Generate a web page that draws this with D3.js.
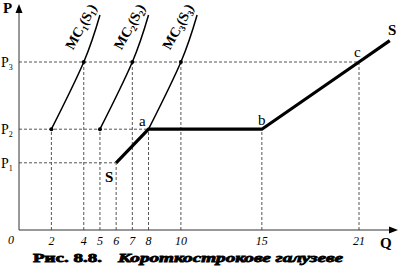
<!DOCTYPE html>
<html lang="uk">
<head>
<meta charset="UTF-8">
<title>Короткострокове галузеве</title>
<script src="https://d3js.org/d3.v7.min.js"></script>
<style>
  body { margin: 0; background: #fff; }
  svg text { font-family: "Liberation Serif", "Times New Roman", Tinos, "DejaVu Serif", serif; fill: #000; }
</style>
</head>
<body>
<div id="chart"></div>
<script>
// ticks on Q axis
var qTicks = [2, 4, 5, 6, 7, 8, 10, 15, 21];
// price levels
var priceNames = ['P1', 'P2', 'P3'];
var priceValues = [4, 6, 10];
// marginal cost curves of three firms (Q, P)
var mcNames = ['1', '2', '3'];
var mcQ = [[2, 4, 5], [5, 7, 8], [8, 10, 11]];
var mcP = [6, 10, 12.8];
// industry supply S
var supplyQ = [6, 8, 15, 21, 22.9];
var supplyP = [4, 6, 6, 10, 11.27];
// guide lines: vertical from axis to point
var guideQ = [2, 4, 5, 6, 7, 8, 10, 15, 21];
var guideP = [6, 10, 6, 4, 10, 6, 10, 6, 10];
// dots on MC curves
var dotQ = [2, 4, 5, 7, 10];
var dotP = [6, 10, 6, 10, 10];

var w = 398, h = 278;
var svg = d3.select('#chart').append('svg')
    .attr('width', w)
    .attr('height', h)
    .attr('font-family', '"Liberation Serif", "Times New Roman", Tinos, "DejaVu Serif", serif');

var x = d3.scaleLinear().domain([0, 21]).range([19, 359]);
var y = d3.scaleLinear().domain([0, 10]).range([230, 62]);

// dashed guides
var dash = '3,2';
svg.selectAll('line.v').data(guideQ).enter().append('line')
    .attr('x1', function (d) { return x(d); })
    .attr('x2', function (d) { return x(d); })
    .attr('y1', y(0))
    .attr('y2', function (d, i) { return y(guideP[i]); })
    .attr('stroke', '#555').attr('stroke-dasharray', dash);

// horizontal guides: P1 to 6, P2 to 8, P3 to 21
var hEnd = [6, 8, 21];
svg.selectAll('line.h').data(priceValues).enter().append('line')
    .attr('x1', x(0))
    .attr('x2', function (d, i) { return x(hEnd[i]); })
    .attr('y1', function (d) { return y(d); })
    .attr('y2', function (d) { return y(d); })
    .attr('stroke', '#555').attr('stroke-dasharray', dash);

// axes
svg.append('line').attr('x1', x(0)).attr('y1', y(0)).attr('x2', x(0)).attr('y2', 10)
    .attr('stroke', '#333');
svg.append('path').attr('d', 'M' + x(0) + ',4 L' + (x(0) - 3.5) + ',13 L' + (x(0) + 3.5) + ',13 Z');
svg.append('line').attr('x1', x(0)).attr('y1', y(0)).attr('x2', 392).attr('y2', y(0))
    .attr('stroke', '#333');
svg.append('path').attr('d', 'M398,' + y(0) + ' L389,' + (y(0) - 3.5) + ' L389,' + (y(0) + 3.5) + ' Z');

svg.append('text').attr('x', 3).attr('y', 13).attr('font-size', 15).attr('font-weight', 'bold').text('P');
svg.append('text').attr('x', 380).attr('y', 248).attr('font-size', 15).attr('font-weight', 'bold').text('Q');
svg.append('text').attr('x', 8).attr('y', 244).attr('font-size', 12).attr('font-style', 'italic').text('0');

// tick labels
svg.selectAll('text.tick').data(qTicks).enter().append('text')
    .attr('x', function (d) { return x(d); })
    .attr('y', 245)
    .attr('text-anchor', 'middle')
    .attr('font-size', 12)
    .attr('font-style', 'italic')
    .text(function (d) { return d; });

// price labels
var pl = svg.selectAll('text.p').data(priceValues).enter().append('text')
    .attr('x', 1)
    .attr('y', function (d) { return y(d) + 5; })
    .attr('font-size', 14);
pl.append('tspan').text('P');
pl.append('tspan').attr('font-size', 8).attr('dy', 3)
    .text(function (d, i) { return priceNames[i].slice(1); });

// MC curves
var curve = d3.line()
    .x(function (d) { return x(d[0]); })
    .y(function (d) { return y(d[1]); })
    .curve(d3.curveNatural);
mcQ.forEach(function (qs, k) {
    var pts = qs.map(function (q, i) { return [q, mcP[i]]; });
    svg.append('path').attr('d', curve(pts))
        .attr('fill', 'none').attr('stroke', '#000').attr('stroke-width', 1.5);
    var lx = x(qs[2]) - 15, ly = 29;
    var t = svg.append('text')
        .attr('transform', 'translate(' + lx + ',' + ly + ') rotate(-61)')
        .attr('text-anchor', 'middle')
        .attr('font-size', 14)
        .attr('font-weight', 'bold');
    t.append('tspan').text('MC');
    t.append('tspan').attr('font-size', 9).attr('dy', 3).text(mcNames[k]);
    t.append('tspan').attr('dy', -3).text('(S');
    t.append('tspan').attr('font-size', 9).attr('dy', 3).text(mcNames[k]);
    t.append('tspan').attr('dy', -3).text(')');
});

// supply line
var sLine = d3.line()
    .x(function (d) { return x(d); })
    .y(function (d, i) { return y(supplyP[i]); });
svg.append('path').attr('d', sLine(supplyQ))
    .attr('fill', 'none').attr('stroke', '#000').attr('stroke-width', 3.2);

// dots
svg.selectAll('circle').data(dotQ).enter().append('circle')
    .attr('cx', function (d) { return x(d); })
    .attr('cy', function (d, i) { return y(dotP[i]); })
    .attr('r', 2);

// point labels
svg.append('text').attr('x', 139).attr('y', 126).attr('font-size', 15).text('a');
svg.append('text').attr('x', 258).attr('y', 125).attr('font-size', 15).text('b');
svg.append('text').attr('x', 354).attr('y', 57).attr('font-size', 15).text('c');
svg.append('text').attr('x', 388).attr('y', 35).attr('font-size', 15).attr('font-weight', 'bold').text('S');
svg.append('text').attr('x', 105).attr('y', 182).attr('font-size', 15).attr('font-weight', 'bold').text('S');

// caption
var cap = svg.append('text').attr('y', 262)
    .attr('font-size', 13).attr('font-weight', 'bold')
    .attr('stroke', '#000').attr('stroke-width', 0.8);
cap.append('tspan').attr('x', 33).attr('textLength', 69).attr('lengthAdjust', 'spacingAndGlyphs').text('Рис. 8.8.');
cap.append('tspan').attr('x', 118).attr('font-style', 'italic')
    .attr('textLength', 225).attr('lengthAdjust', 'spacingAndGlyphs').text('Короткострокове галузеве');
</script>
</body>
</html>
